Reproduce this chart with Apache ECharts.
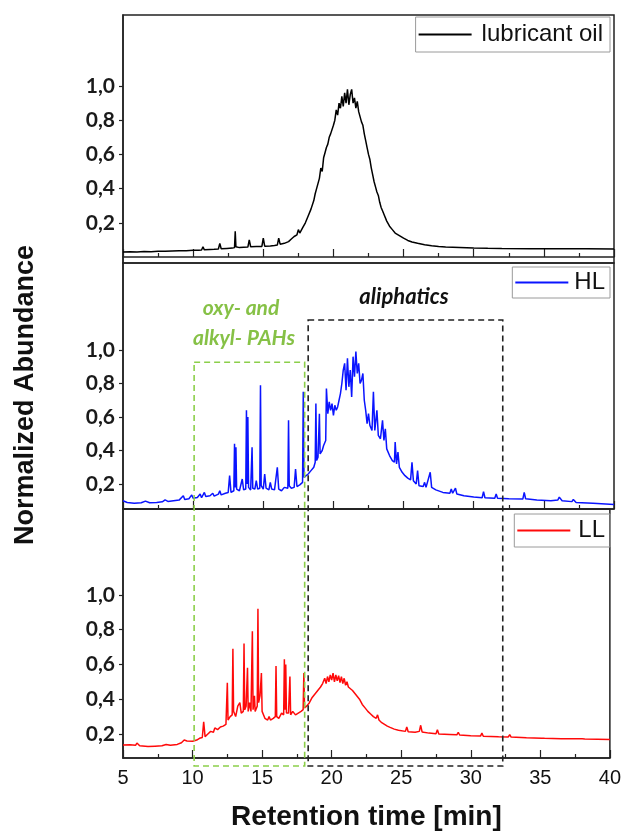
<!DOCTYPE html>
<html>
<head>
<meta charset="utf-8">
<script src="https://cdn.jsdelivr.net/npm/echarts@6/dist/echarts.min.js"></script>
<style>
    html, body {margin: 0; padding: 0; background: #fff;}
    #chart {width: 624px; height: 833px;}
</style>
</head>
<body>
<div id="chart"></div>
<script>
// series names
let seriesNames = ['lubricant oil', 'HL', 'LL'];
let seriesColors = ['#000000', '#0a14ff', '#ff0a0a'];

// y tick values shown on each panel
let yTickValues = [0.2, 0.4, 0.6, 0.8, 1.0];

// retention time [min], normalized abundance
let oilTrace = [
    [5.0, 0.030], [5.5, 0.031], [6.0, 0.030], [6.5, 0.032], [7.0, 0.031], [7.5, 0.033], [8.0, 0.034],
    [8.5, 0.035], [9.0, 0.036], [9.5, 0.037], [10.0, 0.039], [10.4, 0.040], [10.6, 0.041], [10.7, 0.060],
    [10.8, 0.042], [11.2, 0.044], [11.5, 0.045], [11.8, 0.047], [11.9, 0.080], [12.0, 0.048], [12.4, 0.050],
    [12.8, 0.052], [12.95, 0.055], [13.0, 0.150], [13.05, 0.060], [13.3, 0.055], [13.6, 0.057], [13.9, 0.058],
    [14.0, 0.100], [14.1, 0.060], [14.5, 0.061], [14.9, 0.062], [15.0, 0.110], [15.1, 0.063], [15.5, 0.065],
    [15.8, 0.067], [16.0, 0.070], [16.1, 0.110], [16.2, 0.075], [16.5, 0.080], [16.8, 0.090], [17.0, 0.105],
    [17.2, 0.120], [17.4, 0.130], [17.5, 0.160], [17.6, 0.140], [17.8, 0.170], [18.0, 0.200], [18.1, 0.190],
    [18.2, 0.240], [18.3, 0.230], [18.4, 0.280], [18.5, 0.270], [18.6, 0.330], [18.7, 0.370], [18.8, 0.400],
    [18.9, 0.390], [19.0, 0.460], [19.1, 0.520], [19.2, 0.500], [19.3, 0.580], [19.4, 0.610], [19.5, 0.640],
    [19.6, 0.660], [19.7, 0.700], [19.8, 0.720], [19.9, 0.710], [20.0, 0.770], [20.1, 0.800], [20.2, 0.860],
    [20.3, 0.830], [20.4, 0.900], [20.5, 0.870], [20.6, 0.940], [20.7, 0.880], [20.8, 0.960], [20.9, 0.900],
    [21.0, 0.980], [21.1, 0.890], [21.2, 0.950], [21.3, 0.980], [21.4, 0.900], [21.5, 0.930], [21.6, 0.870],
    [21.7, 0.910], [21.8, 0.850], [21.9, 0.860], [22.0, 0.790], [22.1, 0.770], [22.2, 0.720], [22.3, 0.680],
    [22.4, 0.640], [22.5, 0.600], [22.6, 0.570], [22.7, 0.520], [22.8, 0.480], [22.9, 0.440], [23.0, 0.410],
    [23.1, 0.380], [23.2, 0.360], [23.3, 0.320], [23.4, 0.290], [23.5, 0.270], [23.6, 0.250], [23.8, 0.210],
    [24.0, 0.180], [24.2, 0.160], [24.4, 0.140], [24.7, 0.125], [25.0, 0.110], [25.3, 0.097], [25.6, 0.088],
    [26.0, 0.080], [26.5, 0.072], [27.0, 0.066], [27.5, 0.062], [28.0, 0.059], [29.0, 0.056], [30.0, 0.053],
    [31.0, 0.051], [32.0, 0.050], [34.0, 0.049], [36.0, 0.048], [38.0, 0.048], [40.0, 0.047]
];

let hlTrace = [
    [5.0, 0.100], [5.1, 0.110], [5.3, 0.090], [5.8, 0.085], [6.3, 0.088], [6.6, 0.098], [6.9, 0.088],
    [7.4, 0.090], [7.8, 0.094], [8.0, 0.105], [8.2, 0.096], [8.6, 0.100], [9.0, 0.104], [9.3, 0.130],
    [9.4, 0.108], [9.7, 0.112], [9.9, 0.135], [10.0, 0.115], [10.3, 0.120], [10.5, 0.140], [10.6, 0.118],
    [10.8, 0.150], [10.9, 0.125], [11.2, 0.130], [11.4, 0.145], [11.5, 0.128], [11.8, 0.140], [11.9, 0.160],
    [12.0, 0.135], [12.3, 0.145], [12.5, 0.150], [12.6, 0.250], [12.7, 0.150], [12.9, 0.160], [12.95, 0.440],
    [13.0, 0.180], [13.05, 0.420], [13.1, 0.170], [13.3, 0.160], [13.5, 0.230], [13.6, 0.165], [13.75, 0.170],
    [13.8, 0.640], [13.85, 0.200], [13.9, 0.600], [13.95, 0.180], [14.1, 0.165], [14.2, 0.420], [14.25, 0.175],
    [14.4, 0.170], [14.5, 0.220], [14.6, 0.170], [14.75, 0.175], [14.8, 0.790], [14.85, 0.190], [15.0, 0.170],
    [15.1, 0.260], [15.2, 0.175], [15.4, 0.165], [15.5, 0.210], [15.6, 0.170], [15.8, 0.165], [16.0, 0.300],
    [16.1, 0.170], [16.3, 0.160], [16.5, 0.180], [16.6, 0.170], [16.75, 0.175], [16.8, 0.580], [16.85, 0.190],
    [17.0, 0.175], [17.2, 0.180], [17.3, 0.290], [17.4, 0.185], [17.6, 0.195], [17.8, 0.210], [17.85, 0.750],
    [17.9, 0.240], [18.0, 0.235], [18.2, 0.260], [18.4, 0.280], [18.6, 0.300], [18.7, 0.330], [18.75, 0.680],
    [18.8, 0.340], [18.9, 0.360], [19.0, 0.620], [19.05, 0.380], [19.2, 0.400], [19.3, 0.430], [19.45, 0.460],
    [19.5, 0.770], [19.6, 0.620], [19.7, 0.690], [19.8, 0.640], [19.9, 0.680], [20.0, 0.610], [20.1, 0.670],
    [20.2, 0.640], [20.3, 0.660], [20.4, 0.700], [20.5, 0.740], [20.6, 0.800], [20.7, 0.880], [20.8, 0.920],
    [20.9, 0.760], [21.0, 0.950], [21.1, 0.780], [21.2, 0.880], [21.3, 0.720], [21.4, 0.960], [21.5, 0.840],
    [21.6, 0.990], [21.7, 0.860], [21.8, 0.920], [21.9, 0.800], [22.0, 0.820], [22.1, 0.860], [22.2, 0.700],
    [22.3, 0.640], [22.4, 0.560], [22.5, 0.620], [22.6, 0.550], [22.75, 0.520], [22.85, 0.750], [22.95, 0.520],
    [23.1, 0.640], [23.2, 0.490], [23.35, 0.470], [23.5, 0.580], [23.6, 0.460], [23.7, 0.530], [23.8, 0.410],
    [24.0, 0.370], [24.2, 0.340], [24.35, 0.330], [24.4, 0.450], [24.5, 0.320], [24.6, 0.390], [24.7, 0.300],
    [24.9, 0.270], [25.1, 0.250], [25.3, 0.235], [25.5, 0.225], [25.6, 0.330], [25.7, 0.220], [25.9, 0.200],
    [26.0, 0.280], [26.1, 0.190], [26.4, 0.185], [26.5, 0.210], [26.6, 0.180], [26.9, 0.270], [27.0, 0.180],
    [27.3, 0.165], [27.8, 0.150], [28.3, 0.145], [28.4, 0.170], [28.5, 0.145], [28.7, 0.175], [28.8, 0.140],
    [29.3, 0.130], [30.0, 0.122], [30.6, 0.118], [30.7, 0.155], [30.8, 0.118], [31.5, 0.115], [31.6, 0.140],
    [31.7, 0.115], [32.5, 0.112], [33.5, 0.110], [33.6, 0.150], [33.7, 0.112], [34.5, 0.105], [35.5, 0.100],
    [36.0, 0.105], [36.1, 0.122], [36.3, 0.100], [37.0, 0.095], [37.1, 0.108], [37.3, 0.090], [38.5, 0.085],
    [40.0, 0.078]
];

let llTrace = [
    [5.0, 0.136], [5.5, 0.138], [5.9, 0.135], [6.0, 0.148], [6.2, 0.132], [6.8, 0.128], [7.3, 0.130],
    [7.8, 0.132], [8.1, 0.140], [8.4, 0.135], [8.9, 0.140], [9.2, 0.150], [9.4, 0.165], [9.6, 0.160],
    [10.0, 0.158], [10.3, 0.165], [10.5, 0.175], [10.7, 0.180], [10.8, 0.270], [10.9, 0.185], [11.1, 0.200],
    [11.3, 0.215], [11.5, 0.210], [11.6, 0.235], [11.8, 0.225], [12.0, 0.240], [12.2, 0.245], [12.4, 0.255],
    [12.45, 0.260], [12.5, 0.495], [12.55, 0.280], [12.7, 0.300], [12.85, 0.310], [12.9, 0.690], [12.95, 0.330],
    [13.1, 0.300], [13.25, 0.360], [13.4, 0.380], [13.5, 0.320], [13.65, 0.330], [13.7, 0.720], [13.75, 0.340],
    [13.85, 0.360], [13.95, 0.580], [14.0, 0.330], [14.1, 0.380], [14.2, 0.330], [14.3, 0.790], [14.35, 0.340],
    [14.45, 0.420], [14.5, 0.330], [14.65, 0.360], [14.7, 0.920], [14.75, 0.380], [14.85, 0.420], [14.95, 0.550],
    [15.0, 0.330], [15.2, 0.290], [15.4, 0.280], [15.5, 0.300], [15.6, 0.280], [15.8, 0.290], [15.95, 0.300],
    [16.0, 0.590], [16.05, 0.300], [16.2, 0.290], [16.4, 0.320], [16.55, 0.310], [16.6, 0.630], [16.65, 0.340],
    [16.7, 0.600], [16.75, 0.320], [16.9, 0.320], [17.0, 0.530], [17.05, 0.310], [17.2, 0.330], [17.4, 0.310],
    [17.6, 0.320], [17.8, 0.330], [17.95, 0.340], [18.0, 0.550], [18.05, 0.350], [18.2, 0.360], [18.4, 0.380],
    [18.6, 0.410], [18.8, 0.430], [19.0, 0.450], [19.2, 0.470], [19.35, 0.490], [19.5, 0.520], [19.6, 0.490],
    [19.7, 0.530], [19.8, 0.500], [19.9, 0.540], [20.0, 0.510], [20.1, 0.550], [20.2, 0.500], [20.3, 0.540],
    [20.4, 0.505], [20.5, 0.535], [20.6, 0.495], [20.7, 0.530], [20.8, 0.490], [20.9, 0.520], [21.0, 0.480],
    [21.1, 0.500], [21.2, 0.470], [21.3, 0.480], [21.5, 0.450], [21.6, 0.460], [21.8, 0.420], [22.0, 0.400],
    [22.2, 0.370], [22.4, 0.350], [22.6, 0.330], [22.8, 0.315], [23.0, 0.300], [23.2, 0.290], [23.3, 0.310],
    [23.4, 0.280], [23.6, 0.265], [23.8, 0.255], [24.0, 0.245], [24.2, 0.238], [24.5, 0.228], [24.8, 0.222],
    [25.3, 0.215], [25.4, 0.240], [25.5, 0.213], [26.0, 0.210], [26.3, 0.215], [26.4, 0.250], [26.5, 0.212],
    [27.0, 0.205], [27.5, 0.202], [27.6, 0.225], [27.7, 0.200], [28.5, 0.197], [29.0, 0.195], [29.1, 0.210],
    [29.2, 0.194], [30.0, 0.190], [30.7, 0.188], [30.8, 0.205], [30.9, 0.187], [32.0, 0.184], [32.7, 0.183],
    [32.8, 0.197], [32.9, 0.182], [34.0, 0.178], [35.1, 0.176], [35.2, 0.183], [35.3, 0.175], [36.5, 0.173],
    [38.0, 0.172], [38.1, 0.178], [38.2, 0.171], [40.0, 0.168]
];

// y range of each panel
let yMins = [-0.035, 0.051, 0.062];
let yMaxs = [1.415, 1.519, 1.493];

// annotation boxes [x1, x2] in minutes, tops on HL panel, bottom on LL panel
let pahBox = {x: [10.07, 17.95], top: 0.927, bottom: 0.016};
let aliphaticBox = {x: [18.2, 32.07], top: 1.179, bottom: 0.016};

let chart = echarts.init(document.getElementById('chart'));

let grids = [
    {left: 123, right: 10, top: 15, height: 248},
    {left: 123, right: 10, top: 263, height: 246},
    {left: 123, right: 10, top: 509, height: 249}
];
grids.forEach(function (g) {
    g.show = true;
    g.borderColor = '#222';
    g.borderWidth = 1.5;
});

let xAxes = [];
let yAxes = [];
for (let i = 0; i < 3; i++) {
    let isLast = i === 2;
    xAxes.push({
        type: 'value',
        gridIndex: i,
        min: 5,
        max: 40,
        interval: 5,
        axisLine: {lineStyle: {color: '#222', width: 1.5}},
        axisTick: {inside: true, length: 8, lineStyle: {color: '#222', width: 1.2}},
        minorTick: {show: true, splitNumber: 2, length: 4, lineStyle: {color: '#222', width: 1.2}},
        splitLine: {show: false},
        axisLabel: {
            show: isLast,
            margin: 10,
            fontSize: 20,
            color: '#111',
            fontFamily: 'Liberation Sans, Arial, sans-serif'
        },
        name: isLast ? 'Retention time [min]' : '',
        nameLocation: 'middle',
        nameGap: 45,
        nameTextStyle: {
            fontSize: 28,
            fontWeight: 'bold',
            color: '#111',
            fontFamily: 'Liberation Sans, Arial, sans-serif'
        }
    });
    yAxes.push({
        type: 'value',
        gridIndex: i,
        min: yMins[i],
        max: yMaxs[i],
        axisLine: {show: true, lineStyle: {color: '#222', width: 1.5}},
        axisTick: {show: true, length: 4, customValues: yTickValues, lineStyle: {color: '#222', width: 1.2}},
        splitLine: {show: false},
        axisLabel: {
            customValues: yTickValues,
            margin: 8,
            fontSize: 21,
            fontWeight: 'bold',
            color: '#1a1a1a',
            fontFamily: 'Lato, "Open Sans", sans-serif',
            formatter: function (v) {
                return v.toFixed(1).replace('.', ',');
            }
        }
    });
}

let traces = [oilTrace, hlTrace, llTrace];
let series = traces.map(function (data, i) {
    return {
        name: seriesNames[i],
        type: 'line',
        xAxisIndex: i,
        yAxisIndex: i,
        data: data,
        showSymbol: false,
        color: seriesColors[i],
        lineStyle: {width: 1.5, color: seriesColors[i]},
        animation: false
    };
});

// one framed legend per panel
let legendTops = [17, 267, 514];
let legendPads = [[4, 7, 4, 3], [2, 5, 2, 3], [3, 5, 3, 3]];
let legendTextPad = [5, 1, 3];
let legends = seriesNames.map(function (name, i) {
    return {
        data: [name],
        right: 14,
        top: legendTops[i],
        borderColor: '#9a9a9a',
        borderWidth: 1,
        padding: legendPads[i],
        icon: 'rect',
        itemWidth: 53,
        itemHeight: 2,
        selectedMode: false,
        textStyle: {
            fontSize: 24,
            lineHeight: 27,
            color: '#111',
            padding: [0, 0, 0, legendTextPad[i]],
            fontFamily: 'Liberation Sans, Arial, sans-serif'
        }
    };
});

chart.setOption({
    animation: false,
    backgroundColor: '#fff',
    grid: grids,
    xAxis: xAxes,
    yAxis: yAxes,
    legend: legends,
    series: series
});

// dashed boxes placed through the axes scales
function boxRect(box) {
    let x1 = chart.convertToPixel({xAxisIndex: 1}, box.x[0]);
    let x2 = chart.convertToPixel({xAxisIndex: 1}, box.x[1]);
    let y1 = chart.convertToPixel({yAxisIndex: 1}, box.top);
    let y2 = chart.convertToPixel({yAxisIndex: 2}, box.bottom);
    return {x: x1, y: y1, width: x2 - x1, height: y2 - y1};
}

let labelFont = 'italic bold 21px Lato, "Open Sans", sans-serif';
chart.setOption({
    graphic: [
        {
            type: 'rect',
            z: 100,
            shape: boxRect(pahBox),
            style: {fill: 'none', stroke: '#8ccf4a', lineWidth: 1.6, lineDash: [6, 4]}
        },
        {
            type: 'rect',
            z: 100,
            shape: boxRect(aliphaticBox),
            style: {fill: 'none', stroke: '#222', lineWidth: 1.6, lineDash: [6, 4]}
        },
        {
            type: 'text',
            z: 100,
            x: 241,
            y: 308,
            style: {text: 'oxy- and', font: labelFont, fill: '#86c146', align: 'center', verticalAlign: 'middle'}
        },
        {
            type: 'text',
            z: 100,
            x: 244,
            y: 338,
            style: {text: 'alkyl- PAHs', font: labelFont, fill: '#86c146', align: 'center', verticalAlign: 'middle'}
        },
        {
            type: 'text',
            z: 100,
            x: 404,
            y: 297,
            style: {text: 'aliphatics', font: 'italic bold 22px Lato, "Open Sans", sans-serif', fill: '#111', align: 'center', verticalAlign: 'middle'}
        },
        {
            type: 'text',
            z: 100,
            x: 26,
            y: 395,
            rotation: Math.PI / 2,
            style: {
                text: 'Normalized Abundance',
                font: 'bold 27px "Liberation Sans", Arial, sans-serif',
                fill: '#111',
                align: 'center',
                verticalAlign: 'middle'
            }
        }
    ]
});
</script>
</body>
</html>
